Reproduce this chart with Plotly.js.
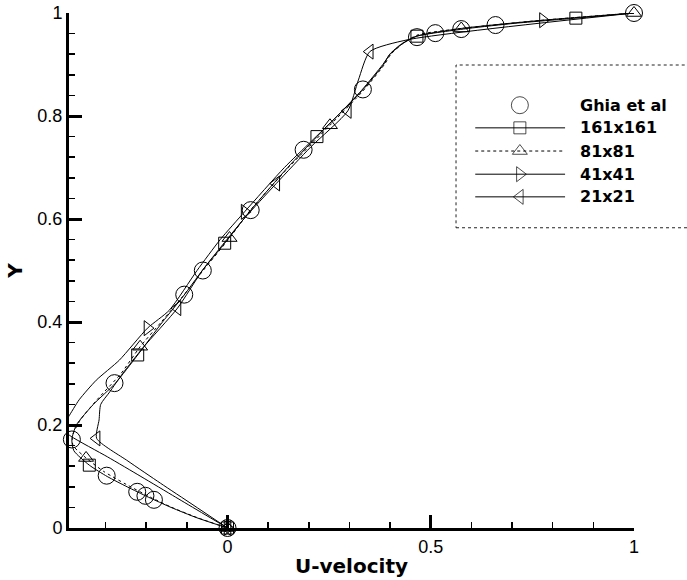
<!DOCTYPE html>
<html>
<head>
<meta charset="utf-8">
<script src="https://cdn.plot.ly/plotly-3.0.1.min.js"></script>
<style>
  html, body { margin: 0; padding: 0; background: #fff; }
  #chart { width: 687px; height: 580px; }
</style>
</head>
<body>
<div id="chart"></div>
<script>
// U-velocity along the vertical centreline of the driven cavity (Re = 1000)

// Ghia et al. reference values
const ghiaY = [1.0000, 0.9766, 0.9688, 0.9609, 0.9531, 0.8516, 0.7344, 0.6172, 0.5000, 0.4531, 0.2813, 0.1719, 0.1016, 0.0703, 0.0625, 0.0547, 0.0000];
const ghiaU = [1.00000, 0.65928, 0.57492, 0.51117, 0.46604, 0.33304, 0.18719, 0.05702, -0.06080, -0.10648, -0.27805, -0.38289, -0.29730, -0.22220, -0.20196, -0.18109, 0.00000];

// 161x161 grid
const g161Y = [1.000, 0.990, 0.980, 0.970, 0.955, 0.940, 0.920, 0.900, 0.851, 0.760, 0.700, 0.617, 0.553, 0.500, 0.450, 0.400, 0.336, 0.281, 0.240, 0.200, 0.172, 0.150, 0.122, 0.100, 0.080, 0.060, 0.040, 0.020, 0.000];
const g161U = [1.000, 0.857, 0.707, 0.592, 0.466, 0.428, 0.399, 0.384, 0.333, 0.220, 0.148, 0.057, -0.007, -0.062, -0.109, -0.160, -0.221, -0.276, -0.330, -0.372, -0.383, -0.378, -0.340, -0.296, -0.247, -0.195, -0.139, -0.076, 0.000];
const g161Marks = [1, 4, 9, 12, 16, 22, 28];

// 81x81 grid
const g81Y = [1.000, 0.985, 0.970, 0.958, 0.945, 0.920, 0.900, 0.851, 0.782, 0.700, 0.617, 0.563, 0.500, 0.450, 0.400, 0.352, 0.300, 0.250, 0.210, 0.180, 0.160, 0.136, 0.110, 0.085, 0.060, 0.040, 0.020, 0.000];
const g81U = [1.000, 0.760, 0.575, 0.470, 0.438, 0.402, 0.386, 0.336, 0.252, 0.150, 0.056, 0.005, -0.060, -0.110, -0.163, -0.215, -0.262, -0.320, -0.362, -0.381, -0.380, -0.348, -0.305, -0.250, -0.190, -0.137, -0.074, 0.000];
const g81Marks = [0, 2, 8, 11, 15, 21, 27];

// 41x41 grid
const g41Y = [1.000, 0.986, 0.970, 0.955, 0.940, 0.920, 0.900, 0.850, 0.800, 0.750, 0.700, 0.614, 0.560, 0.500, 0.423, 0.388, 0.326, 0.287, 0.249, 0.215, 0.195, 0.178, 0.138, 0.100, 0.060, 0.030, 0.000];
const g41U = [1.000, 0.776, 0.575, 0.465, 0.430, 0.400, 0.382, 0.330, 0.270, 0.205, 0.140, 0.042, -0.018, -0.075, -0.143, -0.197, -0.266, -0.323, -0.365, -0.392, -0.410, -0.385, -0.295, -0.213, -0.128, -0.064, 0.000];
const g41Marks = [1, 11, 15, 26];

// 21x21 grid
const g21Y = [1.000, 0.948, 0.925, 0.870, 0.810, 0.740, 0.669, 0.600, 0.550, 0.500, 0.427, 0.350, 0.300, 0.264, 0.240, 0.210, 0.174, 0.130, 0.087, 0.045, 0.000];
const g21U = [1.000, 0.443, 0.350, 0.322, 0.296, 0.205, 0.120, 0.040, -0.012, -0.062, -0.123, -0.208, -0.258, -0.290, -0.312, -0.316, -0.322, -0.245, -0.165, -0.085, 0.000];
const g21Marks = [2, 4, 6, 10, 16, 20];

// legend entries
const legendNames = ['Ghia et al', '161x161', '81x81', '41x41', '21x21'];

const FONT = 'Liberation Sans, Arial, Helvetica, sans-serif';
const BOLD = 'DejaVu Sans, Liberation Sans, Arial, sans-serif';

const series = [
  { y: g161Y, u: g161U, marks: g161Marks, symbol: 'square-open', size: 12, dash: 'solid' },
  { y: g81Y,  u: g81U,  marks: g81Marks,  symbol: 'triangle-up-open', size: 13, dash: 'dot' },
  { y: g41Y,  u: g41U,  marks: g41Marks,  symbol: 'triangle-right-open', size: 13, dash: 'solid' },
  { y: g21Y,  u: g21U,  marks: g21Marks,  symbol: 'triangle-left-open', size: 13, dash: 'solid' }
];

const traces = [];
series.forEach(s => {
  traces.push({
    x: s.u, y: s.y, type: 'scatter', mode: 'lines',
    line: { color: '#000', width: 1, dash: s.dash, shape: 'spline', smoothing: 0.6 },
    hoverinfo: 'skip', showlegend: false
  });
  traces.push({
    x: s.marks.map(i => s.u[i]), y: s.marks.map(i => s.y[i]),
    type: 'scatter', mode: 'markers', cliponaxis: false,
    marker: { symbol: s.symbol, size: s.size, color: '#000', line: { width: 1, color: '#000' } },
    showlegend: false
  });
});
traces.push({
  x: ghiaU, y: ghiaY, type: 'scatter', mode: 'markers', cliponaxis: false,
  marker: { symbol: 'circle-open', size: 17, color: '#000', line: { width: 1, color: '#000' } },
  showlegend: false
});

// legend block (paper coordinates of the plotting area)
const legRowY = [0.821, 0.777, 0.732, 0.687, 0.643];
const legLineX = [0.719, 0.878];
const legMarkX = 0.798;
const legTextX = 0.901;
const legSymbols = ['circle-open', 'square-open', 'triangle-up-open', 'triangle-right-open', 'triangle-left-open'];
const legSizes = [17, 12, 13, 13, 13];
const legDash = [null, 'solid', 'dot', 'solid', 'solid'];

traces.push({
  x: legRowY.map(() => legMarkX), y: legRowY, xaxis: 'x2', yaxis: 'y2',
  type: 'scatter', mode: 'markers', cliponaxis: false,
  marker: { symbol: legSymbols, size: legSizes, color: '#000', line: { width: 1, color: '#000' } },
  hoverinfo: 'skip', showlegend: false
});

const shapes = [{
  type: 'rect', xref: 'paper', yref: 'paper',
  x0: 0.685, x1: 1.2, y0: 0.583, y1: 0.899,
  line: { color: '#222', width: 1, dash: 'dot' }
}];
legRowY.forEach((yy, i) => {
  if (!legDash[i]) return;
  shapes.push({
    type: 'line', xref: 'paper', yref: 'paper',
    x0: legLineX[0], x1: legLineX[1], y0: yy, y1: yy,
    line: { color: '#000', width: 1, dash: legDash[i] }
  });
});

const annotations = legendNames.map((name, i) => ({
  text: name, xref: 'paper', yref: 'paper', x: legTextX, y: legRowY[i],
  xanchor: 'left', yanchor: 'middle', showarrow: false,
  font: { family: BOLD, size: 16, color: '#000', weight: 'bold' }
}));

const axisCommon = {
  showgrid: false, zeroline: false, showline: true, linewidth: 3, linecolor: '#000',
  ticks: 'inside', ticklen: 13, tickwidth: 3, tickcolor: '#000',
  tickfont: { family: FONT, size: 18, color: '#000' }
};

const layout = {
  width: 687, height: 580,
  margin: { l: 69, r: 53, t: 13, b: 52 },
  paper_bgcolor: '#fff', plot_bgcolor: '#fff',
  showlegend: false,
  xaxis: Object.assign({}, axisCommon, {
    range: [-0.39, 1], tick0: 0, dtick: 0.5,
    minor: { tick0: 0, dtick: 0.1, ticks: 'inside', ticklen: 6, tickwidth: 1.5, tickcolor: '#000' },
    title: { text: 'U-velocity', standoff: 4, font: { family: BOLD, size: 20, color: '#000', weight: 'bold' } }
  }),
  yaxis: Object.assign({}, axisCommon, {
    range: [0, 1], tick0: 0, dtick: 0.2,
    minor: { tick0: 0, dtick: 0.04, ticks: 'inside', ticklen: 6, tickwidth: 1.5, tickcolor: '#000' },
    title: { text: 'Y', standoff: 10, font: { family: BOLD, size: 20, color: '#000', weight: 'bold' } }
  }),
  xaxis2: { overlaying: 'x', range: [0, 1], visible: false, anchor: 'y2' },
  yaxis2: { overlaying: 'y', range: [0, 1], visible: false, anchor: 'x2' },
  shapes: shapes,
  annotations: annotations
};

Plotly.newPlot('chart', traces, layout, { staticPlot: true, displayModeBar: false });
</script>
</body>
</html>
